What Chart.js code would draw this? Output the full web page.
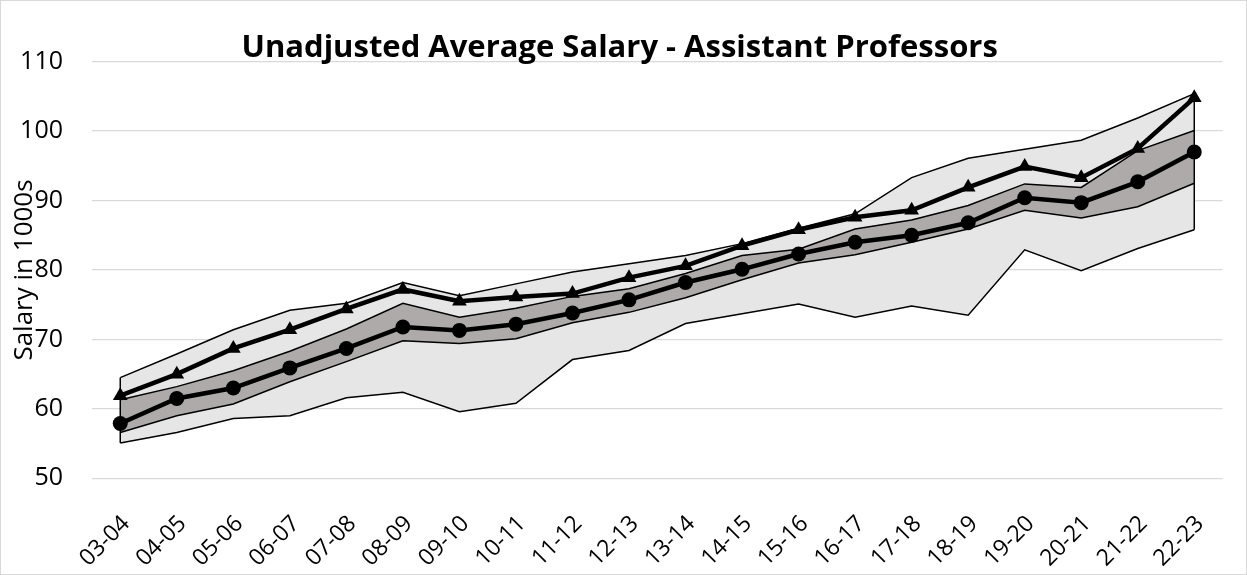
<!DOCTYPE html>
<html>
<head>
<meta charset="utf-8">
<script src="https://cdn.jsdelivr.net/npm/chart.js@4.4.1/dist/chart.umd.min.js"></script>
<style>
html, body { margin: 0; padding: 0; background: #fff; }
#wrap { width: 1245px; height: 573px; border: 1px solid #d9d9d9; }
canvas { display: block; }
</style>
</head>
<body>
<div id="wrap"><canvas id="c" width="1245" height="573"></canvas></div>
<script>
const categories = ['03-04','04-05','05-06','06-07','07-08','08-09','09-10','10-11','11-12','12-13',
                    '13-14','14-15','15-16','16-17','17-18','18-19','19-20','20-21','21-22','22-23'];
const rangeMax   = [64.5, 67.9, 71.4, 74.2, 75.2, 78.2, 76.3, 78.0, 79.7, 80.9, 82.1, 83.8, 86.0, 88.1, 93.3, 96.1, 97.4, 98.7, 101.9, 105.4];
const rangeMin   = [55.1, 56.6, 58.6, 59.0, 61.6, 62.4, 59.6, 60.8, 67.1, 68.4, 72.3, 73.7, 75.1, 73.2, 74.8, 73.5, 82.9, 79.9, 83.1, 85.8];
const bandTop    = [61.3, 63.2, 65.5, 68.3, 71.5, 75.2, 73.2, 74.5, 76.2, 77.3, 79.5, 82.1, 83.0, 85.9, 87.2, 89.3, 92.4, 91.9, 97.2, 100.1];
const bandBottom = [56.6, 59.0, 60.7, 63.9, 66.8, 69.8, 69.4, 70.1, 72.4, 73.9, 76.0, 78.6, 81.0, 82.2, 84.0, 85.9, 88.6, 87.5, 89.1, 92.5];
const averageVals = [57.9, 61.5, 63.0, 65.9, 68.7, 71.8, 71.3, 72.2, 73.8, 75.7, 78.2, 80.1, 82.3, 84.0, 85.0, 86.8, 90.4, 89.7, 92.7, 97.0];
const triangleVals = [61.9, 65.0, 68.7, 71.4, 74.4, 77.2, 75.5, 76.1, 76.6, 78.9, 80.6, 83.5, 85.8, 87.6, 88.6, 91.9, 94.9, 93.3, 97.5, 104.8];
const yTicks = [50, 60, 70, 80, 90, 100, 110];

const FONT = 'Open Sans';

// vertical closing edges of the range area at first and last category
const edgePlugin = {
  id: 'rangeEdges',
  afterDatasetsDraw(chart) {
    const { ctx, scales: { x, y } } = chart;
    const idxs = [0, categories.length - 1];
    ctx.save();
    ctx.strokeStyle = '#000';
    ctx.lineWidth = 1.5;
    idxs.forEach(i => {
      const px = x.getPixelForValue(i);
      ctx.beginPath();
      ctx.moveTo(px, y.getPixelForValue(rangeMax[i]));
      ctx.lineTo(px, y.getPixelForValue(rangeMin[i]));
      ctx.stroke();
    });
    ctx.restore();
  }
};

const thin = { borderColor: '#000', borderWidth: 1.5, pointRadius: 0, tension: 0 };

new Chart(document.getElementById('c'), {
  type: 'line',
  data: {
    labels: categories,
    datasets: [
      { label: 'Assistant', data: triangleVals, borderColor: '#000', borderWidth: 4.5,
        pointStyle: 'triangle', pointRadius: 8.5, pointBackgroundColor: '#000', pointBorderColor: '#000',
        pointBorderWidth: 0, fill: false },
      { label: 'Average', data: averageVals, borderColor: '#000', borderWidth: 4.5,
        pointStyle: 'circle', pointRadius: 7.5, pointBackgroundColor: '#000', pointBorderColor: '#000',
        pointBorderWidth: 0, fill: false },
      Object.assign({ label: 'Band top', data: bandTop, fill: '+1', backgroundColor: '#aeaaaa' }, thin),
      Object.assign({ label: 'Band bottom', data: bandBottom, fill: false }, thin),
      Object.assign({ label: 'Max', data: rangeMax, fill: '+1', backgroundColor: '#e7e6e6' }, thin),
      Object.assign({ label: 'Min', data: rangeMin, fill: false }, thin)
    ]
  },
  options: {
    responsive: false,
    animation: false,
    devicePixelRatio: 1,
    layout: { padding: { left: 0, right: 7.7, top: 0, bottom: 0 } },
    plugins: {
      legend: { display: false },
      tooltip: { enabled: false },
      filler: { drawTime: 'beforeDatasetsDraw' },
      title: {
        display: true,
        text: 'Unadjusted Average Salary - Assistant Professors',
        color: '#000',
        font: { family: FONT, size: 31, weight: 'bold', lineHeight: 1.2 },
        padding: { top: 28.4, bottom: -4.9 }
      }
    },
    scales: {
      x: {
        offset: true,
        grid: { display: false, drawTicks: false },
        border: { display: false },
        ticks: { autoSkip: false, minRotation: 45, maxRotation: 45, color: '#000',
                 font: { family: FONT, size: 23 }, padding: 32, labelOffset: 6 },
        afterFit(s) { s.height = 95.7; }
      },
      y: {
        min: 50, max: 110,
        afterBuildTicks(s) { s.ticks = yTicks.map(v => ({ value: v })); },
        grid: { color: '#d9d9d9', lineWidth: 1.3, drawTicks: false },
        border: { display: false },
        ticks: { color: '#000', font: { family: FONT, size: 25 }, padding: 29 },
        title: { display: true, text: 'Salary in 1000s', color: '#000',
                 font: { family: FONT, size: 26, lineHeight: 1.2 }, padding: { top: 8, bottom: 0 } },
        afterFit(s) { s.width = 91; }
      }
    }
  },
  plugins: [edgePlugin]
});
</script>
</body>
</html>
